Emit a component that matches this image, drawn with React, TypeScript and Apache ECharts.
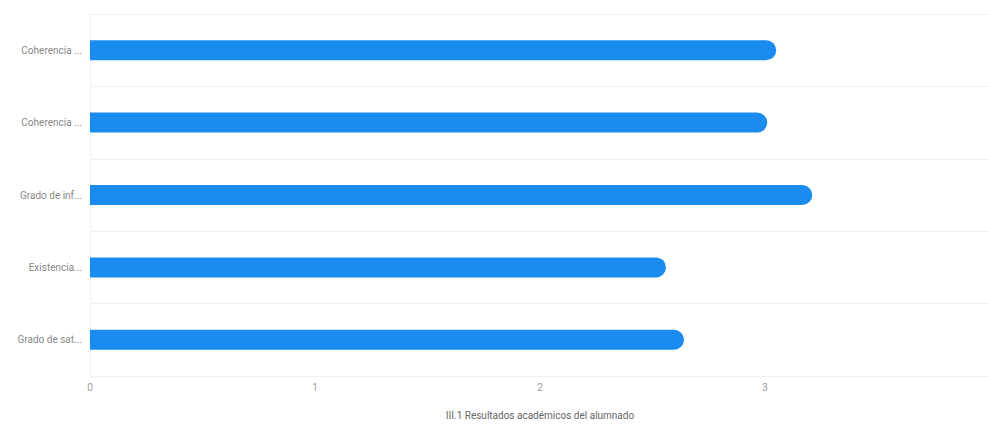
import React, { useEffect, useRef } from "react";
import * as echarts from "echarts";

const categories = ["Coherencia ...", "Coherencia ...", "Grado de inf...", "Existencia...", "Grado de sat..."];
const values = [3.05, 3.01, 3.21, 2.56, 2.64];
const axisTitle = "III.1 Resultados académicos del alumnado";

export default function App() {
  const ref = useRef<HTMLDivElement>(null);
  useEffect(() => {
    if (!ref.current) return;
    const chart = echarts.init(ref.current, undefined, { renderer: "svg" });
    chart.setOption({
      animation: false,
      grid: { left: 90, right: 10, top: 14, bottom: 45, containLabel: false },
      xAxis: {
        type: "value",
        min: 0,
        max: 4,
        interval: 1,
        name: axisTitle,
        nameLocation: "middle",
        nameGap: 34,
        nameTextStyle: { color: "#666", fontSize: 10, fontFamily: "Roboto" },
        axisLine: { show: false },
        axisTick: { show: false },
        splitLine: { show: false },
        axisLabel: { color: "#999", fontSize: 10, fontFamily: "Roboto", margin: 6, showMaxLabel: false },
      },
      yAxis: {
        type: "category",
        data: categories,
        inverse: true,
        axisLine: { show: true, lineStyle: { color: "#f0f0f0" } },
        axisTick: { show: false },
        splitLine: { show: true, lineStyle: { color: "#f0f0f0", width: 1 } },
        axisLabel: { color: "#888", fontSize: 10, fontFamily: "Roboto", margin: 8 },
      },
      series: [
        {
          type: "bar",
          data: values,
          barWidth: 20,
          itemStyle: { color: "#1a8cf0", borderRadius: [0, 10, 10, 0] },
        },
      ],
    });
    return () => chart.dispose();
  }, []);
  return (
    <div style={{ position: "absolute", left: 0, top: 0, width: 988, height: 425, overflow: "hidden", background: "#fff" }}>
      <div ref={ref} style={{ width: 1000, height: 425 }} />
    </div>
  );
}
